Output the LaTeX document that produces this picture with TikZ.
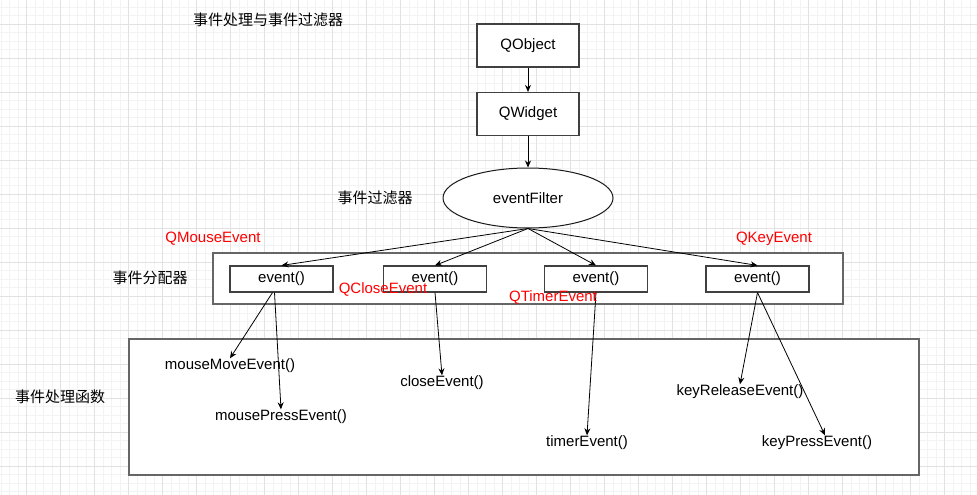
\documentclass[tikz,border=0pt]{standalone}
\usepackage{fontspec}
\setmainfont{Liberation Sans}
\newfontfamily\cjk{Noto Sans CJK SC}
\usetikzlibrary{arrows.meta,positioning,shapes.geometric,calc}
\definecolor{gridmaj}{HTML}{E2E2E2}
\definecolor{gridmin}{HTML}{F3F3F3}
\definecolor{evred}{HTML}{FF0000}
\tikzset{
  box/.style     = {draw=black!75, line width=1.1pt, fill=white, inner sep=0pt,
                    minimum width=102pt, minimum height=43pt, font=\fontsize{15}{18}\selectfont},
  evbox/.style   = {box, minimum width=103pt, minimum height=26pt},
  frame/.style   = {draw=black!60, line width=1.8pt, fill=white, inner sep=0pt},
  lab/.style     = {font=\fontsize{15}{18}\selectfont, inner sep=0pt, yshift=-1.5pt},
  cjklab/.style  = {font=\fontsize{15}{18}\selectfont\cjk, inner sep=0pt},
  redlab/.style  = {lab, text=evred},
  arr/.style     = {-{Stealth[length=7pt,width=6pt]}, draw=black, line width=0.8pt},
}

\begin{document}
\begin{tikzpicture}[x=1pt,y=-1pt]
  \useasboundingbox (0,0) rectangle (977,495);
  \fill[white] (0,0) rectangle (977,495);
  % background grid
  \begin{scope}
    \clip (0,0) rectangle (977,495);
    \foreach \i in {0,...,115}{\draw[gridmin, line width=0.8pt] ({\i*8.5+1.2},0) -- ({\i*8.5+1.2},495);}
    \foreach \i in {0,...,58}{\draw[gridmin, line width=0.8pt] (0,{\i*8.5+7.3}) -- (977,{\i*8.5+7.3});}
    \foreach \i in {0,...,29}{\draw[gridmaj, line width=0.9pt] ({\i*34-7.3},0) -- ({\i*34-7.3},495);}
    \foreach \i in {0,...,15}{\draw[gridmaj, line width=0.9pt] (0,{\i*34-9.7}) -- (977,{\i*34-9.7});}
  \end{scope}

  % containers
  \node[frame, minimum width=630pt, minimum height=51pt] (disp) at (528,278.5) {};
  \node[frame, minimum width=790pt, minimum height=136pt] (handler) at (524,407) {};

  % class chain
  \node[box] (qobj) at (528,45.5) {QObject};
  \node[box] (qwid) at (528,114) {QWidget};
  \node[ellipse, draw=black!90, line width=1pt, fill=white, minimum width=170pt,
        minimum height=60pt, inner sep=0pt, font=\fontsize{15}{18}\selectfont] (filter) at (528,198) {eventFilter};
  \draw[arr] (qobj) -- (qwid);
  \draw[arr] (qwid) -- (filter);

  % dispatchers
  \node[evbox] (ev1) at (281.5,279) {event()};
  \node[evbox] (ev2) at (435,279) {event()};
  \node[evbox] (ev3) at (596,279) {event()};
  \node[evbox] (ev4) at (757.5,279) {event()};
  \foreach \e in {ev1,ev2,ev3,ev4}{\draw[arr] (filter.south) -- (\e.north);}

  % handlers
  \node[lab] (mmove)  at (230,364) {mouseMoveEvent()};
  \node[lab] (mpress) at (281,415) {mousePressEvent()};
  \node[lab] (close)  at (442,381) {closeEvent()};
  \node[lab] (timer)  at (587,441) {timerEvent()};
  \node[lab] (krel)   at (740,390) {keyReleaseEvent()};
  \node[lab] (kpress) at (817,441) {keyPressEvent()};
  \draw[arr] ($(ev1.south)+(-9,0)$) -- (mmove.north);
  \draw[arr] ($(ev1.south)+(-7,0)$) -- (mpress.north);
  \draw[arr] (ev2.south) -- (close.north);
  \draw[arr] (ev3.south) -- (timer.north);
  \draw[arr] (ev4.south) -- (krel.north);
  \draw[arr] (ev4.south) -- ($(kpress.north)+(8,0)$);

  % labels
  \node[cjklab] (title)  at (268,20) {事件处理与事件过滤器};
  \node[cjklab] (fltlab) at (375,198) {事件过滤器};
  \node[cjklab] (dsplab) at (150,278) {事件分配器};
  \node[cjklab] (hndlab) at (60,397) {事件处理函数};
  \node[redlab] (mouseev) at (213,237) {QMouseEvent};
  \node[redlab] (keyev)   at (774,237) {QKeyEvent};
  \node[redlab] (closeev) at (383,288) {QCloseEvent};
  \node[redlab] (timerev) at (553,296) {QTimerEvent};
\end{tikzpicture}
\end{document}
